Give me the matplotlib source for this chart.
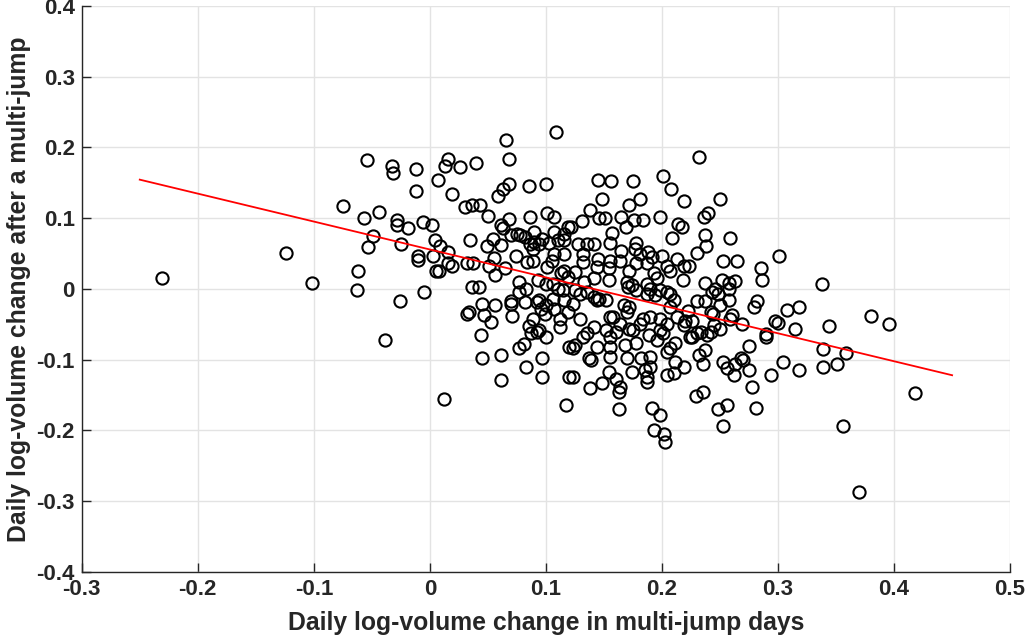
import matplotlib
matplotlib.use("Agg")
import matplotlib.pyplot as plt

plt.rcParams["font.family"] = ["Liberation Sans", "DejaVu Sans"]
plt.rcParams["font.weight"] = "bold"

# volume change on multi-jump days (x) vs change after the jump (y)
vol_jump = [
    -0.231, -0.124, -0.102,
    -0.075, -0.054, -0.033, -0.032, -0.012, 0.007, 0.013, 0.016, -0.012, 0.019,
    -0.057, -0.044, -0.028, -0.028, -0.019, -0.006, 0.002, -0.049, -0.053, -0.025, 0.004, 0.009,
    0.003, -0.010, -0.010, 0.016, 0.016, 0.005, 0.008, -0.062, -0.063, -0.026, -0.005, -0.039, 0.012,
    0.109, 0.066, 0.026, 0.040, 0.068, 0.068, 0.063, 0.059, 0.085, 0.100, 0.030, 0.036, 0.043,
    0.050, 0.068, 0.061, 0.063, 0.086, 0.101, 0.107, 0.119, 0.107, 0.035, 0.049, 0.054, 0.061,
    0.070, 0.075, 0.078, 0.082, 0.090, 0.086, 0.090, 0.089, 0.094, 0.097, 0.103, 0.110,
    0.074, 0.055, 0.051, 0.056, 0.065, 0.032, 0.037, 0.019, 0.084, 0.089, 0.101, 0.105, 0.107,
    0.113, 0.116, 0.119, 0.077, 0.083, 0.100, 0.093, 0.106, 0.036, 0.042, 0.077, 0.110,
    0.032, 0.034, 0.045, 0.056, 0.047, 0.053, 0.070, 0.070, 0.082, 0.071, 0.044, 0.045, 0.061,
    0.061, 0.083, 0.097, 0.097, 0.117, 0.077, 0.081, 0.085, 0.087, 0.092, 0.094, 0.089, 0.100,
    0.092, 0.094, 0.096, 0.099, 0.100, 0.106, 0.107, 0.112, 0.112, 0.116, 0.119, 0.120, 0.120,
    0.145, 0.156, 0.175, 0.201, 0.208, 0.219, 0.148, 0.172, 0.181, 0.138, 0.146, 0.151, 0.165,
    0.169, 0.176, 0.184, 0.198, 0.214, 0.217, 0.209, 0.131, 0.122, 0.157, 0.155, 0.116, 0.116,
    0.128, 0.135, 0.141, 0.165, 0.178, 0.177, 0.181, 0.188, 0.191, 0.200, 0.213, 0.219, 0.116,
    0.132, 0.132, 0.145, 0.155, 0.144, 0.154, 0.164, 0.172, 0.178, 0.187, 0.193, 0.196, 0.204,
    0.207, 0.218, 0.125, 0.133, 0.141, 0.154, 0.170, 0.171, 0.174, 0.178, 0.187, 0.190, 0.198,
    0.204, 0.125, 0.115,
    0.123, 0.129, 0.132, 0.125, 0.123, 0.135, 0.141, 0.144, 0.137, 0.139, 0.123, 0.138, 0.148,
    0.154, 0.160, 0.164, 0.163, 0.163, 0.155, 0.155, 0.152, 0.155, 0.160, 0.155, 0.158, 0.144,
    0.146, 0.152, 0.167, 0.172, 0.170, 0.164, 0.168, 0.170, 0.172, 0.175, 0.178, 0.181, 0.184,
    0.190, 0.174, 0.182, 0.185, 0.187, 0.187, 0.190, 0.190, 0.189, 0.196, 0.198, 0.201, 0.204,
    0.198, 0.204, 0.207, 0.211, 0.211, 0.204, 0.210, 0.219, 0.191, 0.198, 0.193, 0.202, 0.203,
    0.207, 0.210, 0.213, 0.219, 0.224, 0.129, 0.135, 0.141, 0.187, 0.194, 0.207,
    0.232, 0.250, 0.236, 0.240, 0.237, 0.238, 0.259, 0.230, 0.253, 0.265, 0.301, 0.223, 0.285,
    0.286, 0.237, 0.246, 0.243, 0.252, 0.258, 0.263, 0.258, 0.248, 0.258, 0.230, 0.237, 0.250,
    0.222, 0.242, 0.244, 0.260, 0.279, 0.282, 0.308, 0.318, 0.226, 0.269, 0.297, 0.300,
    0.220, 0.245, 0.250, 0.259, 0.290, 0.290, 0.315, 0.226, 0.230, 0.234, 0.239, 0.242, 0.237,
    0.232, 0.235, 0.275, 0.253, 0.256, 0.263, 0.268, 0.270, 0.275, 0.262, 0.294, 0.304, 0.318,
    0.278, 0.229, 0.235, 0.248, 0.256, 0.281, 0.253,
    0.338, 0.380, 0.396, 0.344, 0.339, 0.359, 0.339, 0.351, 0.418, 0.356, 0.370,
]
vol_after = [
    0.016, 0.051, 0.009,
    0.117, 0.182, 0.174, 0.164, 0.170, 0.154, 0.174, 0.184, 0.138, 0.134,
    0.100, 0.109, 0.098, 0.091, 0.086, 0.094, 0.091, 0.075, 0.059, 0.064, 0.069, 0.060,
    0.047, 0.046, 0.041, 0.052, 0.036, 0.025, 0.025, 0.026, -0.001, -0.017, -0.004, -0.072, -0.155,
    0.222, 0.210, 0.173, 0.178, 0.183, 0.148, 0.141, 0.131, 0.146, 0.149, 0.116, 0.118, 0.119,
    0.103, 0.099, 0.090, 0.086, 0.102, 0.108, 0.101, 0.087, 0.081, 0.069, 0.060, 0.070, 0.062,
    0.076, 0.077, 0.076, 0.073, 0.080, 0.063, 0.067, 0.056, 0.064, 0.071, 0.065, 0.069,
    0.046, 0.044, 0.032, 0.019, 0.029, 0.036, 0.036, 0.033, 0.038, 0.039, 0.031, 0.040, 0.050,
    0.022, 0.026, 0.017, 0.010, 0.000, 0.007, 0.012, 0.007, 0.003, 0.003, -0.004, 0.000,
    -0.035, -0.032, -0.021, -0.023, -0.037, -0.047, -0.017, -0.021, -0.018, -0.038, -0.065, -0.098, -0.093,
    -0.129, -0.111, -0.097, -0.125, -0.164, -0.084, -0.078, -0.053, -0.063, -0.061, -0.058, -0.042, -0.068,
    -0.018, -0.015, -0.028, -0.035, -0.023, -0.014, -0.028, -0.042, -0.054, -0.016, -0.032, -0.082, -0.124,
    0.154, 0.153, 0.152, 0.160, 0.141, 0.125, 0.127, 0.119, 0.127, 0.112, 0.100, 0.100, 0.101,
    0.088, 0.097, 0.097, 0.101, 0.092, 0.087, 0.072, 0.096, 0.087, 0.079, 0.065, 0.078, 0.069,
    0.064, 0.063, 0.063, 0.054, 0.065, 0.057, 0.050, 0.052, 0.045, 0.047, 0.043, 0.033, 0.050,
    0.050, 0.038, 0.043, 0.040, 0.031, 0.029, 0.040, 0.026, 0.036, 0.036, 0.022, 0.015, 0.033,
    0.026, 0.012, 0.024, 0.010, 0.015, 0.012, 0.010, 0.003, 0.005, -0.002, 0.007, 0.000, -0.002,
    -0.004, -0.002, -0.002,
    -0.021, -0.042, -0.068, -0.079, -0.084, -0.063, -0.054, -0.082, -0.098, -0.101, -0.124, -0.140, -0.133,
    -0.117, -0.128, -0.138, -0.146, -0.170, -0.096, -0.082, -0.058, -0.068, -0.061, -0.039, -0.039, -0.016,
    -0.014, -0.016, -0.023, -0.025, -0.032, -0.049, -0.079, -0.098, -0.056, -0.058, -0.077, -0.049, -0.042,
    -0.039, -0.117, -0.098, -0.115, -0.124, -0.131, -0.110, -0.096, -0.065, -0.072, -0.058, -0.063, -0.049,
    -0.042, -0.089, -0.084, -0.077, -0.103, -0.122, -0.119, -0.110, -0.168, -0.178, -0.199, -0.205, -0.217,
    -0.025, -0.016, -0.039, -0.051, -0.068, -0.007, -0.004, -0.011, -0.007, -0.009, -0.007,
    0.187, 0.127, 0.101, 0.107, 0.076, 0.060, 0.072, 0.051, 0.040, 0.040, 0.047, 0.033, 0.029,
    0.013, 0.008, 0.000, -0.004, 0.012, 0.008, 0.011, 0.000, -0.007, -0.015, -0.017, -0.017, -0.023,
    -0.031, -0.032, -0.035, -0.037, -0.026, -0.017, -0.030, -0.026, -0.046, -0.049, -0.046, -0.048,
    -0.046, -0.051, -0.056, -0.042, -0.064, -0.068, -0.056, -0.068, -0.063, -0.061, -0.065, -0.061, -0.086,
    -0.093, -0.106, -0.081, -0.103, -0.112, -0.106, -0.098, -0.101, -0.115, -0.122, -0.122, -0.103, -0.114,
    -0.139, -0.151, -0.146, -0.170, -0.164, -0.168, -0.194,
    0.007, -0.038, -0.049, -0.052, -0.085, -0.090, -0.111, -0.106, -0.147, -0.194, -0.287,
]

# least-squares line as drawn in the original
fit_x = [-0.25, 0.45]
fit_y = [0.1545, -0.122]

x_ticks = [-0.3, -0.2, -0.1, 0, 0.1, 0.2, 0.3, 0.4, 0.5]
x_labels = ["-0.3", "-0.2", "-0.1", "0", "0.1", "0.2", "0.3", "0.4", "0.5"]
y_ticks = [-0.4, -0.3, -0.2, -0.1, 0, 0.1, 0.2, 0.3, 0.4]
y_labels = ["-0.4", "-0.3", "-0.2", "-0.1", "0", "0.1", "0.2", "0.3", "0.4"]

fig = plt.figure(figsize=(10.32, 6.44), dpi=100)
ax = fig.add_axes([0.0792, 0.112, 0.8996, 0.8787])

ax.plot(vol_jump, vol_after, linestyle="none", marker="o", markersize=8.8,
        markerfacecolor="none", markeredgecolor="black", markeredgewidth=1.5)
ax.plot(fit_x, fit_y, color="red", linewidth=1.3)

ax.set_xlim(-0.3, 0.5)
ax.set_ylim(-0.4, 0.4)
ax.set_xticks(x_ticks)
ax.set_xticklabels(x_labels, fontweight="bold", fontsize=16)
ax.set_yticks(y_ticks)
ax.set_yticklabels(y_labels, fontweight="bold", fontsize=16)

ax.grid(True, color="#e3e3e3", linewidth=1.0)
ax.set_axisbelow(True)
for s in ["top", "right"]:
    ax.spines[s].set_visible(False)
for s in ["left", "bottom"]:
    ax.spines[s].set_color("#262626")
    ax.spines[s].set_linewidth(1.0)
ax.tick_params(direction="in", length=6.5, width=1.0, color="#262626",
               labelcolor="#262626", pad=5)

ax.set_xlabel("Daily log-volume change in multi-jump days", fontsize=17.8,
              fontweight="bold", color="#262626", labelpad=8)
ax.set_ylabel("Daily log-volume change after a multi-jump", fontsize=17.8,
              fontweight="bold", color="#262626", labelpad=4)

fig.savefig("out.png", dpi=100)
